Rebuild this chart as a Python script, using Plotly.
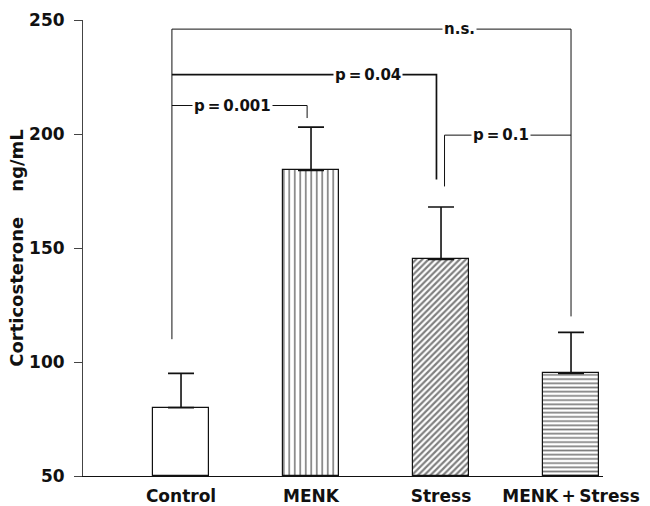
import plotly.graph_objects as go

# Plasma corticosterone by treatment group (mean + SEM)
groups = ["Control", "MENK", "Stress", "MENK+Stress"]
tick_labels = ["Control", "MENK", "Stress", "MENK\u2009+\u2009Stress"]
means = [80, 184, 145, 95]
sem = [15, 19, 23, 18]

# Pairwise comparisons: (left group, right group, label, bracket level, left foot, right foot)
comparisons = [
    (0, 3, "n.s.", 246, 110, 120),
    (0, 2, "p\u2009=\u20090.04", 226, 226, 180),
    (0, 1, "p\u2009=\u20090.001", 212.5, 212.5, 207),
    (2, 3, "p\u2009=\u20090.1", 199.5, 177, 199.5),
]

# Bracket styling: horizontal nudge of each foot, label position along bracket, line width
foot_shift = [(-0.07, 0.0), (-0.07, -0.035), (-0.07, -0.03), (0.027, 0.0)]
label_frac = [0.72, 0.74, 0.45, 0.445]
line_w = [1.0, 1.7, 1.0, 1.0]

FONT = "DejaVu Sans"
INK = "#111111"

fig = go.Figure()

fig.add_trace(go.Bar(
    x=list(range(len(groups))),
    y=[m - 50 for m in means],
    base=50,
    width=0.43,
    marker=dict(
        color="white",
        line=dict(color=INK, width=1.2),
        pattern=dict(
            shape=["", "|", "/", "-"],
            size=[6, 5.5, 4.4, 4.2],
            solidity=[0.2, 0.3, 0.5, 0.4],
            fgcolor="#000000",
            bgcolor="white",
            fillmode="overlay",
        ),
    ),
    error_y=dict(
        type="data", symmetric=False, array=sem,
        arrayminus=[0] * len(sem),
        color=INK, thickness=1.6, width=13,
    ),
    showlegend=False,
    hoverinfo="skip",
))

annotations = []
for k, (i, j, label, level, lfoot, rfoot) in enumerate(comparisons):
    xl = i + foot_shift[k][0]
    xr = j + foot_shift[k][1]
    fig.add_trace(go.Scatter(
        x=[xl, xl, xr, xr],
        y=[lfoot, level, level, rfoot],
        mode="lines",
        line=dict(color=INK, width=line_w[k]),
        showlegend=False,
        hoverinfo="skip",
    ))
    annotations.append(dict(
        x=xl + (xr - xl) * label_frac[k], y=level,
        xref="x", yref="y",
        text=label, showarrow=False,
        font=dict(family=FONT, size=15, color=INK, weight="bold"),
        bgcolor="white", borderpad=1,
        xanchor="center", yanchor="middle",
    ))

fig.update_layout(
    width=650, height=506,
    margin=dict(l=83, r=47, t=20, b=30, autoexpand=False),
    paper_bgcolor="white", plot_bgcolor="white",
    font=dict(family=FONT, size=17, color=INK, weight="bold"),
    annotations=annotations,
    bargap=0,
)

fig.update_xaxes(
    range=[-0.754, 3.246],
    tickmode="array",
    tickvals=list(range(len(groups))),
    ticktext=tick_labels,
    showline=True, linecolor=INK, linewidth=1,
    ticks="", showgrid=False, zeroline=False,
    ticklabelstandoff=5, automargin=False,
    tickfont=dict(family=FONT, size=17, color=INK, weight="bold"),
)

fig.update_yaxes(
    range=[50, 250],
    tickvals=[50, 100, 150, 200, 250],
    showline=True, linecolor="#444444", linewidth=1,
    ticks="outside", ticklen=8, tickwidth=1, tickcolor="#444444",
    showgrid=False, zeroline=False,
    ticklabelstandoff=6, automargin=False,
    tickfont=dict(family=FONT, size=17, color=INK, weight="bold"),
    title=dict(
        text="Corticosterone\u00a0\u00a0\u00a0\u00a0ng/mL",
        font=dict(family=FONT, size=18, color=INK, weight="bold"),
        standoff=0,
    ),
)

fig.write_html("out.html")
